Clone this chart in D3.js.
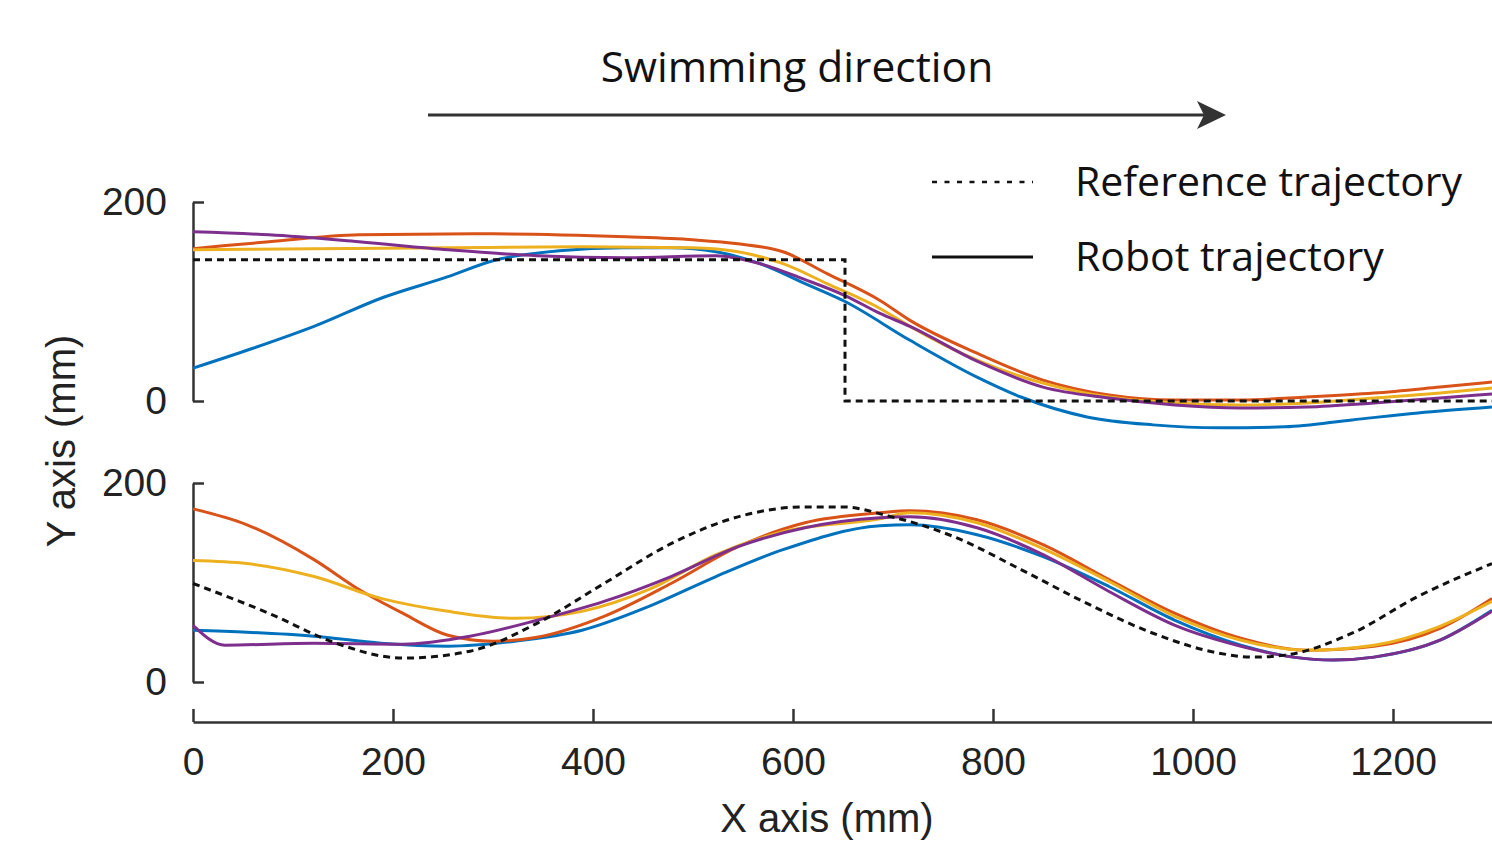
<!DOCTYPE html>
<html>
<head>
<meta charset="utf-8">
<script src="https://cdn.jsdelivr.net/npm/d3@7"></script>
<style>
  body { margin: 0; background: #fff; }
  svg { display: block; }
</style>
</head>
<body>
<div id="vis"></div>
<script>
const FRAME_WIDTH = 1492;
const FRAME_HEIGHT = 842;

// x ticks (mm)
const X_TICKS = [0, 200, 400, 600, 800, 1000, 1200];
const Y_TICKS = [0, 200];

// series colours (matlab defaults)
const COLORS = ["#0072BD", "#D95319", "#EDB120", "#7E2F8E"];

// top panel: step reference + 4 robot runs, [x mm, y mm]
const topRef = [[0, 142], [652, 142], [652, 0], [1300, 0]];
const topBlue = [[0, 33], [60, 53], [121, 75], [190, 104], [255, 125], [300, 141], [366, 151], [430, 154],
  [478, 154], [523, 150], [567, 138], [612, 118], [652, 100], [717, 61], [784, 24], [828, 4], [894, -16],
  [960, -24], [1026, -27], [1092, -26], [1159, -19], [1225, -12], [1299, -6]];
const topOrange = [[0, 153], [30, 156], [76, 160], [166, 167], [300, 168], [433, 165], [500, 162], [545, 158],
  [590, 150], [634, 128], [687, 101], [717, 81], [784, 48], [850, 21], [916, 6], [982, 1], [1048, 1],
  [1114, 4], [1181, 8], [1247, 14], [1299, 19]];
const topYellow = [[0, 152], [121, 153], [255, 154], [389, 155], [500, 154], [545, 150], [590, 138], [634, 118],
  [687, 93], [717, 75], [784, 41], [850, 18], [916, 4], [982, -2], [1048, -4], [1114, -2], [1181, 3],
  [1247, 8], [1299, 13]];
const topPurple = [[0, 170], [76, 167], [166, 160], [255, 152], [344, 146], [433, 144], [523, 146], [567, 138],
  [612, 122], [652, 106], [687, 88], [717, 75], [784, 40], [850, 14], [916, 3], [982, -4], [1048, -7],
  [1114, -6], [1181, -2], [1247, 3], [1299, 7]];

// bottom panel: sine reference + 4 robot runs
const botRef = [[0, 99], [76, 69], [143, 39], [210, 24], [277, 31], [344, 59], [411, 99], [478, 139],
  [545, 166], [612, 176], [650, 176], [695, 167], [761, 146], [828, 113], [894, 79], [960, 49],
  [1026, 29], [1060, 25], [1092, 27], [1159, 49], [1225, 86], [1299, 119]];
const botBlue = [[0, 52], [54, 50], [121, 46], [188, 39], [255, 36], [322, 41], [389, 52], [456, 76],
  [523, 106], [590, 133], [687, 157], [717, 158], [784, 148], [850, 126], [916, 96], [982, 62],
  [1048, 37], [1100, 25], [1140, 22], [1181, 25], [1247, 42], [1299, 72]];
const botOrange = [[0, 174], [54, 158], [121, 123], [166, 93], [210, 69], [255, 47], [300, 41], [344, 45],
  [411, 66], [478, 99], [545, 136], [612, 160], [687, 170], [717, 172], [784, 163], [850, 138],
  [916, 103], [982, 69], [1048, 44], [1114, 32], [1181, 36], [1247, 54], [1299, 84]];
const botYellow = [[0, 122], [54, 119], [121, 106], [188, 84], [255, 71], [322, 64], [389, 71], [456, 93],
  [523, 128], [590, 151], [687, 164], [717, 170], [784, 160], [850, 134], [916, 101], [982, 66],
  [1048, 42], [1114, 32], [1181, 37], [1247, 56], [1299, 81]];
const botPurple = [[0, 57], [32, 37], [121, 39], [210, 38], [277, 46], [344, 62], [411, 81], [478, 106],
  [545, 136], [612, 155], [687, 165], [717, 166], [784, 155], [850, 128], [916, 91], [982, 57],
  [1048, 36], [1100, 25], [1140, 22], [1181, 25], [1247, 42], [1299, 71]];

const LEGEND_LABELS = ["Reference trajectory", "Robot trajectory"];

const AXIS_COLOR = "#333";
const TICK_FONT = "'Liberation Sans', Arial, sans-serif";
const TEXT_FONT = "'Open Sans', 'Noto Sans', sans-serif";

const svg = d3.select("#vis")
  .append("svg")
  .attr("width", FRAME_WIDTH)
  .attr("height", FRAME_HEIGHT);

const X_SCALE = d3.scaleLinear().domain([0, 1300]).range([193, 1493]);
const Y_TOP = d3.scaleLinear().domain([0, 200]).range([401, 202]);
const Y_BOT = d3.scaleLinear().domain([0, 200]).range([682, 483]);

function styleAxis(g) {
  g.select(".domain").attr("stroke", AXIS_COLOR).attr("stroke-width", 2.5);
  g.selectAll(".tick line").attr("stroke", AXIS_COLOR).attr("stroke-width", 2.5);
  g.selectAll(".tick text")
    .attr("fill", "#222")
    .style("font-family", TICK_FONT)
    .style("font-size", "39px");
}

// y axes, ticks pointing in
[Y_TOP, Y_BOT].forEach((ys) => {
  svg.append("g")
    .attr("transform", "translate(193,0)")
    .call(d3.axisLeft(ys).tickValues(Y_TICKS).tickSizeInner(-11).tickSizeOuter(0).tickPadding(26))
    .call(styleAxis);
});

// x axis
svg.append("g")
  .attr("transform", "translate(0,722)")
  .call(d3.axisBottom(X_SCALE).tickValues(X_TICKS).tickFormat(d3.format("d"))
    .tickSizeInner(-13).tickSizeOuter(0).tickPadding(25))
  .call(styleAxis);

// axis titles
svg.append("text")
  .attr("x", 827).attr("y", 832)
  .attr("text-anchor", "middle")
  .attr("fill", "#222")
  .style("font-family", TICK_FONT).style("font-size", "40px")
  .text("X axis (mm)");

svg.append("text")
  .attr("transform", "translate(75,441) rotate(-90)")
  .attr("text-anchor", "middle")
  .attr("fill", "#222")
  .style("font-family", TICK_FONT).style("font-size", "40px")
  .text("Y axis (mm)");

function drawPanel(ys, ref, runs, refCurve) {
  const line = d3.line()
    .x((d) => X_SCALE(d[0]))
    .y((d) => ys(d[1]))
    .curve(d3.curveMonotoneX);

  runs.forEach((run, i) => {
    svg.append("path")
      .datum(run)
      .attr("d", line)
      .attr("fill", "none")
      .attr("stroke", COLORS[i])
      .attr("stroke-width", 3)
      .attr("stroke-linejoin", "round");
  });

  const refLine = d3.line()
    .x((d) => X_SCALE(d[0]))
    .y((d) => ys(d[1]))
    .curve(refCurve);

  svg.append("path")
    .datum(ref)
    .attr("d", refLine)
    .attr("fill", "none")
    .attr("stroke", "#111")
    .attr("stroke-width", 3)
    .attr("stroke-dasharray", "7,5");
}

drawPanel(Y_TOP, topRef, [topBlue, topOrange, topYellow, topPurple], d3.curveLinear);
drawPanel(Y_BOT, botRef, [botBlue, botOrange, botYellow, botPurple], d3.curveMonotoneX);

// swimming direction arrow
svg.append("text")
  .attr("x", 797).attr("y", 82)
  .attr("text-anchor", "middle")
  .attr("fill", "#111")
  .style("font-family", TEXT_FONT).style("font-size", "42.5px")
  .text("Swimming direction");

svg.append("line")
  .attr("x1", 428).attr("x2", 1208)
  .attr("y1", 115).attr("y2", 115)
  .attr("stroke", AXIS_COLOR).attr("stroke-width", 3);

svg.append("path")
  .attr("d", "M1226,115 L1197,101 L1204,115 L1197,129 Z")
  .attr("fill", AXIS_COLOR);

// legend
const legend = svg.append("g");
LEGEND_LABELS.forEach((lab, i) => {
  const ly = 182 + i * 75;
  legend.append("line")
    .attr("x1", 932).attr("x2", 1033)
    .attr("y1", ly).attr("y2", ly)
    .attr("stroke", "#111")
    .attr("stroke-width", i === 0 ? 2.5 : 3)
    .attr("stroke-dasharray", i === 0 ? "5,7.5" : null);
  legend.append("text")
    .attr("x", 1075).attr("y", ly + 14)
    .attr("fill", "#111")
    .style("font-family", TEXT_FONT).style("font-size", "41px")
    .text(lab);
});
</script>
</body>
</html>
